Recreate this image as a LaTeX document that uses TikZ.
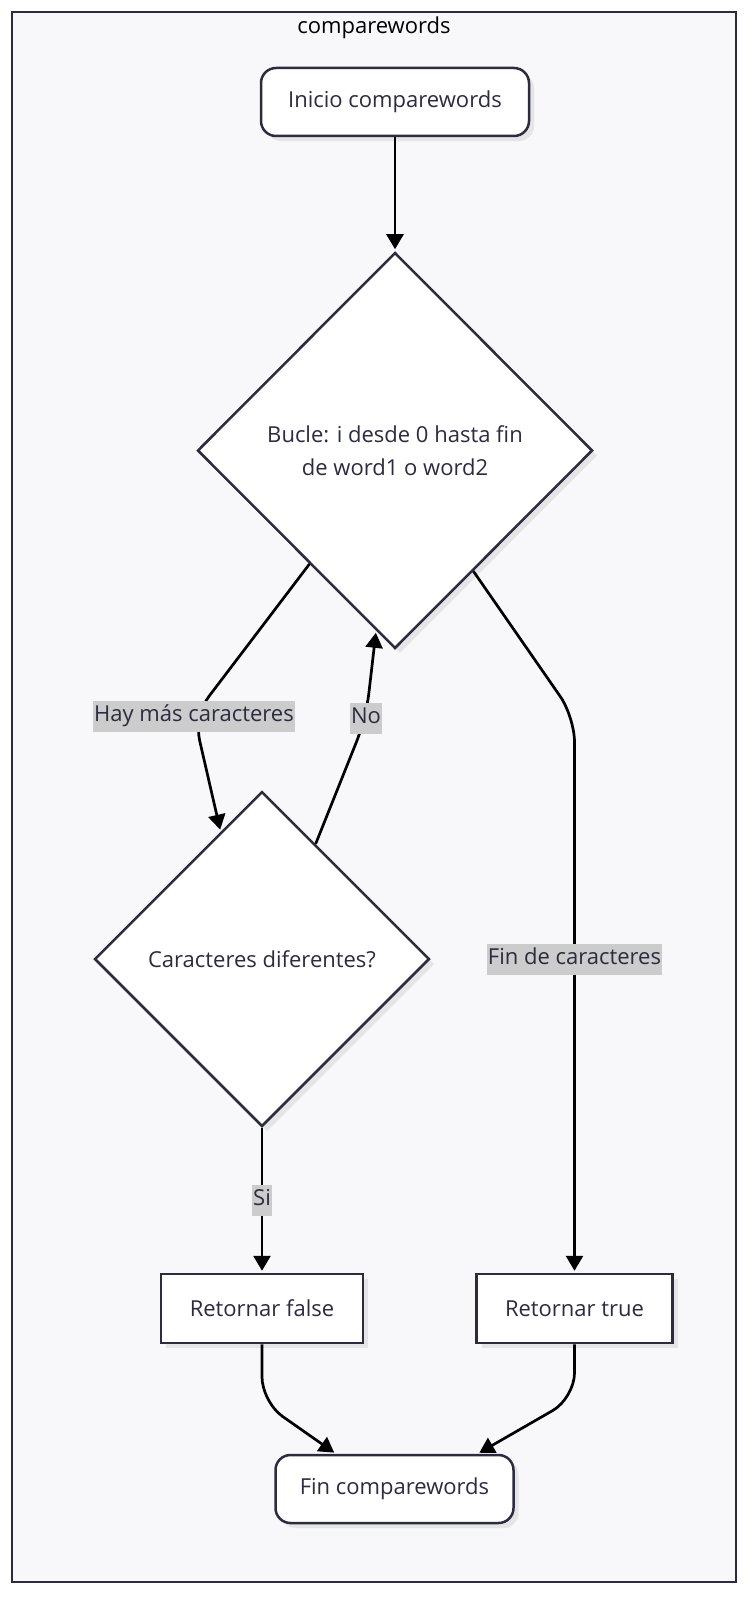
\documentclass[tikz,border=0pt]{standalone}
\usepackage{fontspec}
\setmainfont{Open Sans}
\usetikzlibrary{arrows.meta, positioning, shapes.geometric, backgrounds, shadows}

\definecolor{nodeline}{HTML}{2C2B40}
\definecolor{inktext}{HTML}{2C2B40}
\definecolor{framefill}{HTML}{F8F8FA}
\definecolor{labelfill}{HTML}{CCCCCC}

\begin{document}
\begin{tikzpicture}[x=1pt, y=-1pt,
                every node/.style={font=\fontsize{22}{33}\selectfont, text=inktext},
                soft shadow/.style={drop shadow={shadow xshift=5pt, shadow yshift=-5pt,
                                    fill=black!10, opacity=1}},
                startstop/.style={draw=nodeline, line width=2.5pt, fill=white, rounded corners=15pt,
                                  minimum height=68pt, align=center, soft shadow},
                process/.style={draw=nodeline, line width=2.5pt, fill=white,
                                minimum height=69pt, align=center, soft shadow},
                decision/.style={diamond, draw=nodeline, line width=2.5pt, fill=white,
                                 inner sep=0pt, align=center, soft shadow},
                frame outline/.style={draw=nodeline, line width=2.5pt, fill=framefill},
                flow/.style={draw=black, line width=2.7pt, rounded corners=25pt,
                             -{Triangle[length=15pt, width=17pt]}, shorten >=2pt},
                edge label/.style={fill=labelfill, sharp corners, inner xsep=1pt, inner ysep=5.5pt,
                                   text height=15pt, text depth=5pt}]

                \useasboundingbox (0,0) rectangle (751,1600);

                % Flowchart nodes - positioned relative to each other
                \node[startstop, minimum width=268pt] (start) at (395,102) {Inicio comparewords};
                \node[decision, minimum width=395pt, minimum height=396pt, below=114pt of start] (loop)
                      {Bucle: i desde 0 hasta fin\\de word1 o word2};
                \node[decision, minimum width=335pt, minimum height=335pt] (differ) at (262,959)
                      {Caracteres diferentes?};
                \node[process, minimum width=202pt, below=145pt of differ] (rfalse) {Retornar false};
                \node[process, minimum width=196pt, right=111pt of rfalse] (rtrue) {Retornar true};
                \node[startstop, minimum width=238pt] (finish) at (394.5,1489) {Fin comparewords};

                % Subgraph frame on the background layer
                \begin{scope}[on background layer]
                    \node[frame outline, minimum width=724pt, minimum height=1570pt] (frame) at (374,797) {};
                \end{scope}
                \node[text=black] (title) at (374,28) {comparewords};

                % Connectors
                \draw[flow] (start) -- (loop);
                \draw[flow] (loop.233) -- (194,716) node[edge label] {Hay más caracteres} -- (differ.108);
                \draw[flow] (differ.65) -- (366,718) node[edge label] {No} -- (loop.264);
                \draw[flow] (loop.303) -- (rtrue.north |- 0,717) -- (rtrue.north |- 0,959)
                    node[edge label] {Fin de caracteres} -- (rtrue);
                \draw[flow] (differ) -- node[edge label] {Si} (rfalse);
                \draw[flow] (rfalse) -- (rfalse.south |- 0,1402) -- (finish.149);
                \draw[flow] (rtrue) -- (rtrue.south |- 0,1398) -- (finish.23);
            \end{tikzpicture}
\end{document}
